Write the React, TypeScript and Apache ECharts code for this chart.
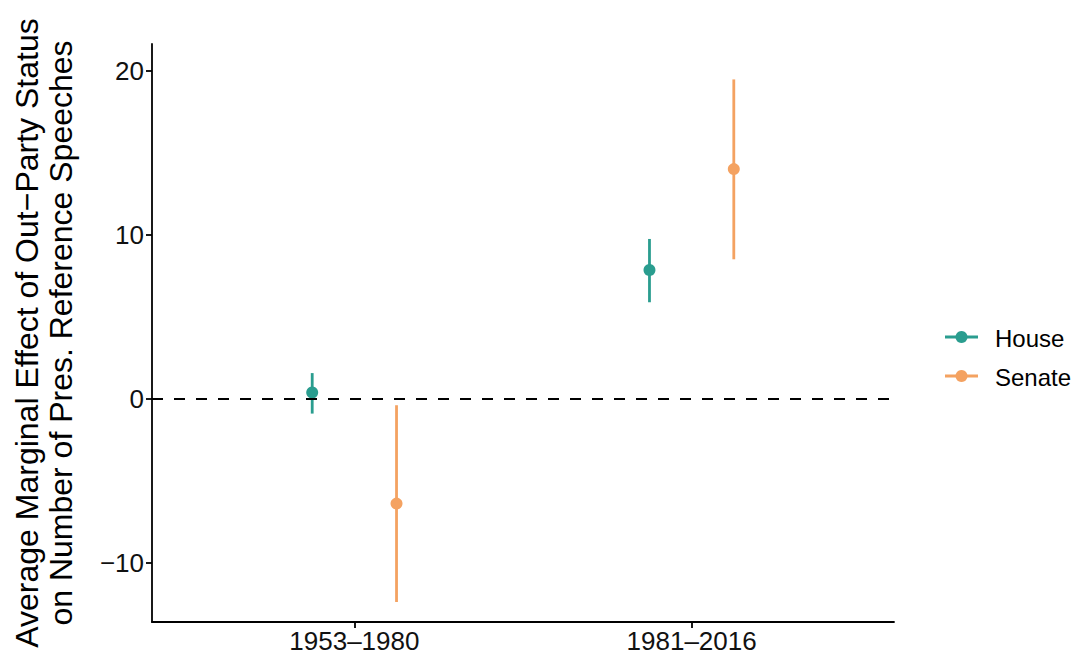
import React, { useEffect, useRef } from "react";
import * as echarts from "echarts";

const periods = ["1953–1980", "1981–2016"];
const chambers = ["House", "Senate"];
const colors = ["#2A9D8F", "#F4A261"];
// estimate, lower, upper per period
const houseEst = [0.4, 7.87];
const houseLo = [-0.89, 5.9];
const houseHi = [1.58, 9.76];
const senateEst = [-6.38, 14.02];
const senateLo = [-12.38, 8.52];
const senateHi = [-0.38, 19.49];
const yTicks = [-10, 0, 10, 20];

const FONT = "Liberation Sans, Arial, Helvetica, sans-serif";

export default function App() {
  const ref = useRef<HTMLDivElement>(null);
  useEffect(() => {
    if (!ref.current) return;
    const chart = echarts.init(ref.current, null, { renderer: "svg" });
    const dodge = 0.125;
    const mk = (est: number[], lo: number[], hi: number[]) =>
      periods.map((_, i) => [i + 1, est[i], lo[i], hi[i]]);
    const seriesData = [mk(houseEst, houseLo, houseHi), mk(senateEst, senateLo, senateHi)];

    const series: any[] = chambers.map((name, si) => ({
      name,
      type: "custom",
      data: seriesData[si],
      z: 3,
      renderItem: (params: any, api: any) => {
        const x = api.value(0) + (si === 0 ? -dodge : dodge);
        const p = api.coord([x, api.value(1)]);
        const lo = api.coord([x, api.value(2)]);
        const hi = api.coord([x, api.value(3)]);
        return {
          type: "group",
          children: [
            {
              type: "line",
              shape: { x1: lo[0], y1: lo[1], x2: hi[0], y2: hi[1] },
              style: { stroke: colors[si], lineWidth: 2.8 },
            },
            {
              type: "circle",
              shape: { cx: p[0], cy: p[1], r: 6 },
              style: { fill: colors[si] },
            },
          ],
        };
      },
    }));

    series.push({
      type: "line",
      data: [],
      silent: true,
      z: 2,
      markLine: {
        silent: true,
        symbol: "none",
        label: { show: false },
        lineStyle: { color: "#000", width: 2, type: [11, 11] },
        data: [{ yAxis: 0 }],
      },
    });

    const legendGraphic: any[] = [];
    chambers.forEach((name, i) => {
      const cy = 337 + i * 39;
      legendGraphic.push(
        {
          type: "line",
          shape: { x1: 945, y1: cy, x2: 978, y2: cy },
          style: { stroke: colors[i], lineWidth: 2.8 },
        },
        {
          type: "circle",
          shape: { cx: 961.5, cy, r: 6 },
          style: { fill: colors[i] },
        },
        {
          type: "text",
          x: 995,
          y: cy + 1,
          style: {
            text: name,
            fill: "#000",
            font: `24px ${FONT}`,
            verticalAlign: "middle",
            align: "left",
          },
        }
      );
    });

    chart.setOption({
      animation: false,
      backgroundColor: "#fff",
      grid: { left: 152, right: 189, top: 44, bottom: 38, containLabel: false },
      xAxis: {
        type: "value",
        min: 0.4,
        max: 2.6,
        splitLine: { show: false },
        axisLine: { show: true, onZero: false, lineStyle: { color: "#000", width: 1.8 } },
        axisTick: { show: true, customValues: [1, 2], length: 6, lineStyle: { color: "#000", width: 1.8 } },
        axisLabel: {
          customValues: [1, 2],
          formatter: (v: number) => periods[Math.round(v) - 1] ?? "",
          color: "#111",
          fontSize: 26,
          fontFamily: FONT,
          margin: 6,
        },
      },
      yAxis: {
        type: "value",
        min: -13.6,
        max: 21.65,
        splitLine: { show: false },
        axisLine: { show: true, onZero: false, lineStyle: { color: "#000", width: 1.8 } },
        axisTick: { show: true, customValues: yTicks, length: 6, lineStyle: { color: "#000", width: 1.8 } },
        axisLabel: {
          customValues: yTicks,
          formatter: (v: number) => (v < 0 ? "\u2212" + Math.abs(v) : String(v)),
          color: "#111",
          fontSize: 26,
          fontFamily: FONT,
          margin: 8,
        },
        name: "Average Marginal Effect of Out\u2212Party Status\non Number of Pres. Reference Speeches",
        nameLocation: "middle",
        nameGap: 74,
        nameTextStyle: {
          fontSize: 32,
          fontFamily: FONT,
          color: "#000",
          lineHeight: 34,
        },
      },
      series,
      graphic: legendGraphic,
    });
    return () => chart.dispose();
  }, []);
  return <div ref={ref} style={{ width: 1083, height: 660, margin: -8 }} />;
}
